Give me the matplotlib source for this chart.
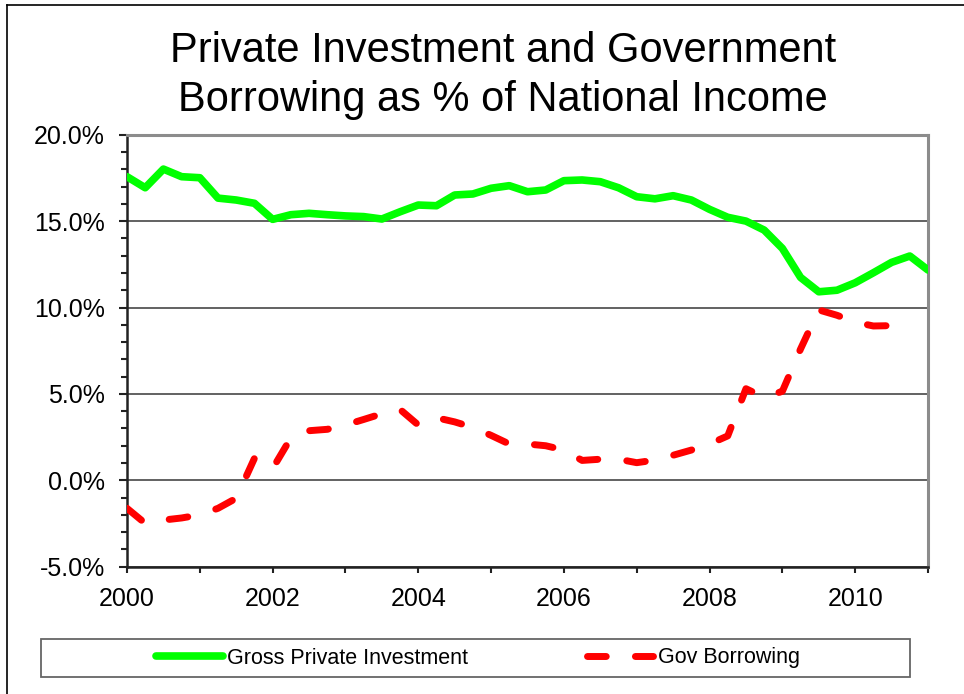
import numpy as np
import matplotlib
matplotlib.use("Agg")
import matplotlib.pyplot as plt
from matplotlib.ticker import MultipleLocator, FuncFormatter
from matplotlib.lines import Line2D
from matplotlib.patches import Rectangle

plt.rcParams['font.family'] = ['Liberation Sans', 'DejaVu Sans']

# Quarterly series, 2000 Q1 onwards (% of national income)
quarters = np.arange(2000, 2011.01, 0.25)

private_investment = [
    17.57, 16.93, 18.01, 17.57, 17.51, 16.33, 16.22, 16.03,
    15.10, 15.37, 15.45, 15.37, 15.30, 15.26, 15.12, 15.54,
    15.93, 15.89, 16.51, 16.57, 16.90, 17.05, 16.70, 16.80,
    17.34, 17.38, 17.28, 16.93, 16.41, 16.29, 16.47, 16.22,
    15.68, 15.22, 15.00, 14.48, 13.42, 11.74, 10.91, 11.00,
    11.43, 12.01, 12.61, 12.98, 12.17,
]

gov_borrowing = [
    -1.62, -2.49, -2.30, -2.18, -2.00, -1.62, -1.04, 1.27,
    0.68, 2.45, 2.87, 2.95, 3.20, 3.52, 3.85, 4.10,
    3.20, 3.62, 3.38, 3.06, 2.60, 2.10, 2.10, 2.00,
    1.75, 1.15, 1.22, 1.22, 1.02, 1.17, 1.45, 1.75,
    2.10, 2.57, 5.30, 4.80, 5.15, 7.60, 9.86, 9.55,
    9.15, 8.93, 8.95, 8.78,
]

series_labels = ['Gross Private Investment', 'Gov Borrowing']
title = 'Private Investment and Government\nBorrowing as % of National Income'

W, H = 964, 694
fig = plt.figure(figsize=(W / 100, H / 100), dpi=100)
fig.patch.set_facecolor('white')

ax = fig.add_axes([127 / W, 1 - 566.7 / H, (928 - 127) / W, (566.7 - 134.7) / H])

green_lw = 5.5
red_lw = 5.0
ax.plot(quarters, private_investment, color='#00ff00', lw=green_lw,
        solid_capstyle='round', solid_joinstyle='round', zorder=3,
        label=series_labels[0])
ax.plot(quarters[:len(gov_borrowing)], gov_borrowing, color='#ff0000', lw=red_lw,
        linestyle=(0, (2.7, 4.2)), dash_capstyle='round', dash_joinstyle='round',
        zorder=3, label=series_labels[1])

ax.set_xlim(2000, 2011)
ax.set_ylim(-5, 20)

ax.xaxis.set_major_locator(MultipleLocator(2))
ax.xaxis.set_minor_locator(MultipleLocator(1))
ax.yaxis.set_major_locator(MultipleLocator(5))
ax.yaxis.set_minor_locator(MultipleLocator(1))
ax.yaxis.set_major_formatter(FuncFormatter(lambda v, p: f"{v:.1f}%"))
ax.xaxis.set_major_formatter(FuncFormatter(lambda v, p: f"{int(round(v))}"))

ax.tick_params(which='both', direction='out', color='#222222', width=1.5)
ax.tick_params(axis='y', which='major', length=6, pad=10, labelsize=18)
ax.tick_params(axis='y', which='minor', length=4.5)
ax.tick_params(axis='x', which='both', length=4.5, pad=10, labelsize=18)

ax.grid(axis='y', which='major', color='#555555', lw=1.3, zorder=1)
ax.set_axisbelow(True)

for side in ['left', 'bottom']:
    ax.spines[side].set_color('#222222')
    ax.spines[side].set_linewidth(1.8)
for side in ['top', 'right']:
    ax.spines[side].set_color('#8c8c8c')
    ax.spines[side].set_linewidth(2.2)

fig.text(503 / W, 1 - 31 / H, title, ha='center', va='top', fontsize=30,
         linespacing=1.3)

# legend box spanning the width below the axes
fig.patches.append(Rectangle((41 / W, 1 - 677 / H), (910 - 41) / W, (677 - 639) / H,
                             transform=fig.transFigure, fill=False,
                             edgecolor='#666666', lw=1.3))
handles, labels = ax.get_legend_handles_labels()
fig.legend(handles, labels, loc='center', bbox_to_anchor=(478 / W, 1 - 658 / H),
           ncol=2, frameon=False, fontsize=15.5, handlelength=3.1,
           handletextpad=0.2, columnspacing=5.5, borderaxespad=0)

# outer frame lines on the left and top
fig.add_artist(Line2D([7 / W, 7 / W], [0, 1 - 5 / H], transform=fig.transFigure,
                      color='black', lw=1.2))
fig.add_artist(Line2D([7 / W, 1], [1 - 5 / H, 1 - 5 / H], transform=fig.transFigure,
                      color='black', lw=1.2))

fig.savefig('out.png', dpi=100)
